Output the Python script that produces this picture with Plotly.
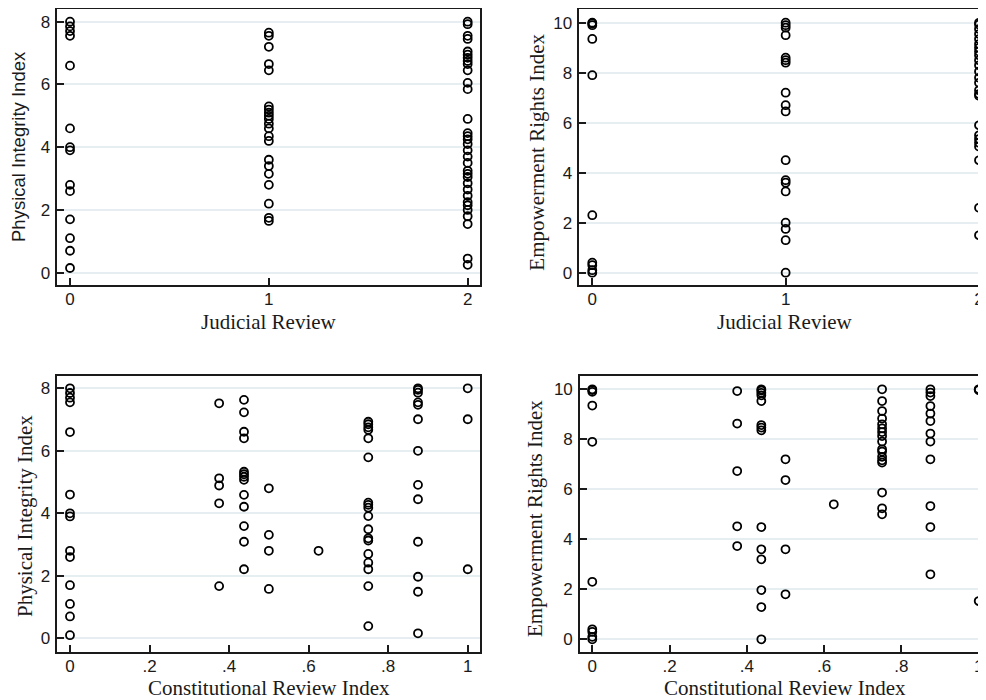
import plotly.graph_objects as go

# ---------------- data ----------------
judicial_levels = [0, 1, 2]
pi_by_judicial = [
    [8.0, 7.85, 7.7, 7.55, 6.6, 4.6, 4.0, 3.9, 2.8, 2.6, 1.7, 1.1, 0.7, 0.15],
    [7.65, 7.55, 7.2, 6.65, 6.45, 5.3, 5.2, 5.1, 5.0, 4.9, 4.75, 4.6, 4.35, 4.2,
     3.6, 3.4, 3.15, 2.8, 2.2, 1.75, 1.65],
    [8.0, 7.92, 7.55, 7.45, 7.05, 6.95, 6.85, 6.75, 6.65, 6.45, 6.05, 5.85, 4.9,
     4.45, 4.35, 4.25, 4.1, 3.9, 3.7, 3.5, 3.25, 3.15, 3.05, 2.85, 2.65, 2.45,
     2.25, 2.15, 2.0, 1.8, 1.55, 0.45, 0.25],
]
er_by_judicial = [
    [10.0, 9.97, 9.9, 9.35, 7.9, 2.3, 0.4, 0.3, 0.1, 0.0],
    [10.0, 9.9, 9.8, 9.5, 8.6, 8.5, 8.4, 7.2, 6.7, 6.45, 4.5, 3.7, 3.6, 3.25,
     2.0, 1.75, 1.3, 0.0],
    [10.0, 9.93, 9.75, 9.55, 9.35, 9.15, 9.0, 8.85, 8.7, 8.5, 8.3, 8.05, 7.8,
     7.6, 7.3, 7.15, 7.08, 5.9, 5.5, 5.35, 5.2, 5.05, 4.5, 2.6, 1.5],
]

constitutional_levels = [0, 0.375, 0.4375, 0.5, 0.625, 0.75, 0.875, 1]
pi_by_constitutional = [
    [8.0, 7.85, 7.7, 7.55, 6.6, 4.6, 4.0, 3.9, 2.8, 2.6, 1.7, 1.1, 0.7, 0.1],
    [7.52, 5.12, 4.89, 4.32, 1.67],
    [7.63, 7.23, 6.61, 6.4, 5.33, 5.25, 5.17, 5.07, 4.59, 4.21, 3.59, 3.09, 2.21],
    [4.8, 3.31, 2.8, 1.58],
    [2.8],
    [6.93, 6.85, 6.75, 6.67, 6.4, 5.79, 4.34, 4.27, 4.18, 3.91, 3.49, 3.2, 3.13,
     2.7, 2.42, 2.21, 1.67, 0.39],
    [8.0, 7.95, 7.86, 7.55, 7.47, 7.01, 6.0, 4.91, 4.45, 3.09, 1.97, 1.49, 0.16],
    [8.0, 7.01, 2.21],
]
er_by_constitutional = [
    [10.0, 9.97, 9.9, 9.35, 7.9, 2.3, 0.4, 0.3, 0.1, 0.0],
    [9.93, 8.63, 6.73, 4.52, 3.73],
    [10.0, 9.95, 9.86, 9.76, 9.53, 8.57, 8.47, 8.36, 4.49, 3.6, 3.2, 1.97, 1.29, 0.0],
    [7.2, 6.37, 3.6, 1.8],
    [5.4],
    [10.0, 9.53, 9.13, 8.83, 8.6, 8.44, 8.29, 8.13, 7.91, 7.6, 7.51, 7.3, 7.16,
     7.07, 5.87, 5.24, 5.0],
    [10.0, 9.87, 9.73, 9.33, 9.03, 8.73, 8.23, 7.91, 7.2, 5.33, 4.49, 2.6],
    [10.0, 9.97, 1.53],
]

judicial_ticks = [0, 1, 2]
judicial_ticktext = ["0", "1", "2"]
constitutional_ticks = [0, 0.2, 0.4, 0.6, 0.8, 1]
constitutional_ticktext = ["0", ".2", ".4", ".6", ".8", "1"]
pi_ticks = [0, 2, 4, 6, 8]
er_ticks = [0, 2, 4, 6, 8, 10]


def flatten(levels, groups):
    xs, ys = [], []
    for lv, vals in zip(levels, groups):
        xs += [lv] * len(vals)
        ys += list(vals)
    return xs, ys


# page body has an 8px margin, so the figure is sized to end at the window edge
OFF = 8
W, H = 986 - OFF, 700 - OFF
SANS = "Liberation Sans, Arial, sans-serif"
SERIF = "Liberation Serif, Times New Roman, serif"
INK = "#1a1a1a"
GRID = "#e6eef1"

fig = go.Figure()
marker = dict(symbol="circle-open", size=8, color="black", line=dict(width=1.8, color="black"))

panels = [
    (judicial_levels, pi_by_judicial, "x", "y"),
    (judicial_levels, er_by_judicial, "x2", "y2"),
    (constitutional_levels, pi_by_constitutional, "x3", "y3"),
    (constitutional_levels, er_by_constitutional, "x4", "y4"),
]
for lv, grp, xa, ya in panels:
    xs, ys = flatten(lv, grp)
    fig.add_trace(go.Scatter(x=xs, y=ys, mode="markers", marker=marker,
                             xaxis=xa, yaxis=ya, showlegend=False, hoverinfo="x+y"))


def px(a):
    return (a - OFF) / W


def py(a):
    return 1 - (a - OFF) / H


top_dom = [py(285), min(1.0, py(9))]
bot_dom = [py(651.7), py(375.7)]
left_dom = [px(57.3), px(480)]
right_dom_t = [px(579.3), 1.0]
right_dom_b = [px(580), 1.0]

axis_common = dict(showline=True, linecolor=INK, linewidth=1.6, ticks="inside",
                   ticklen=7, tickwidth=1.5, tickcolor=INK, zeroline=False,
                   tickfont=dict(family=SANS, size=17, color=INK), fixedrange=True)


def xax(domain, anchor, rng, tv, tt, mirror=True, standoff=0):
    d = dict(axis_common)
    d.update(domain=domain, anchor=anchor, range=rng, tickvals=tv, ticktext=tt,
             showgrid=False, mirror=mirror, ticklabelstandoff=standoff)
    return d


def yax(domain, anchor, rng, tv, mirror):
    d = dict(axis_common)
    d.update(domain=domain, anchor=anchor, range=rng, tickvals=tv,
             showgrid=True, gridcolor=GRID, gridwidth=1.5, mirror=mirror,
             ticklabelstandoff=2)
    return d


fig.update_layout(
    width=W, height=H,
    margin=dict(l=0, r=0, t=0, b=0),
    paper_bgcolor="white", plot_bgcolor="white",
    xaxis=xax(left_dom, "y", [-0.0639, 2.062], judicial_ticks, judicial_ticktext, standoff=-2),
    yaxis=yax(top_dom, "x", [-0.392, 8.405], pi_ticks, True),
    xaxis2=xax(right_dom_t, "y2", [-0.0672, 2.0362], judicial_ticks, judicial_ticktext, standoff=-2),
    yaxis2=yax(top_dom, "x2", [-0.492, 10.548], er_ticks, False),
    xaxis3=xax(left_dom, "y3", [-0.0319, 1.0309], constitutional_ticks, constitutional_ticktext, standoff=-2),
    yaxis3=yax(bot_dom, "x3", [-0.429, 8.403], pi_ticks, True),
    xaxis4=xax(right_dom_b, "y4", [-0.0318, 1.0189], constitutional_ticks, constitutional_ticktext, standoff=-2),
    yaxis4=yax(bot_dom, "x4", [-0.496, 10.544], er_ticks, False),
)

titles = [
    ("Physical Integrity Index", 18, 147, SANS, 18.5, -90),
    ("Empowerment Rights Index", 536.7, 152, SERIF, 21, -90),
    ("Physical Integrity Index", 25, 516, SERIF, 21, -90),
    ("Empowerment Rights Index", 535, 519, SERIF, 21, -90),
    ("Judicial Review", 269, 322, SERIF, 21, 0),
    ("Judicial Review", 785, 322, SERIF, 21, 0),
    ("Constitutional Review Index", 269, 688, SERIF, 21, 0),
    ("Constitutional Review Index", 785, 688, SERIF, 21, 0),
]
for text, x, y, fam, size, ang in titles:
    fig.add_annotation(text=text, x=px(x), y=py(y), xref="paper", yref="paper",
                       xanchor="center", yanchor="middle", showarrow=False,
                       textangle=ang, font=dict(family=fam, size=size, color=INK))

fig.write_html("out.html")
